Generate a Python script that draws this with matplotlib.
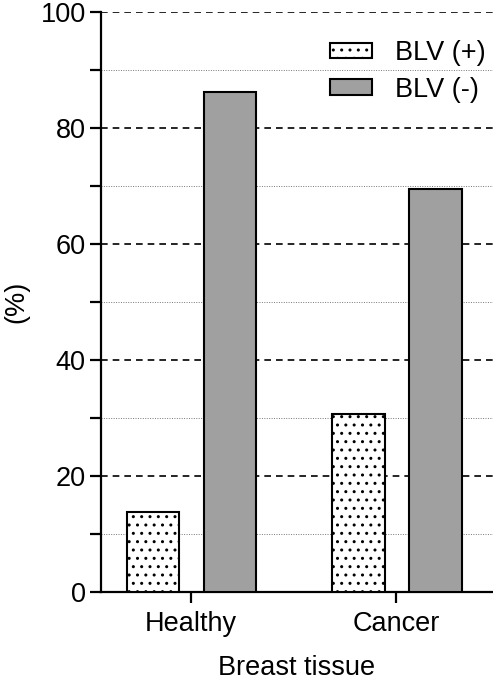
import numpy as np
import matplotlib.pyplot as plt
from matplotlib.ticker import MultipleLocator

plt.rcParams['font.family'] = ['Liberation Sans', 'DejaVu Sans']
plt.rcParams['hatch.linewidth'] = 1.0

categories = ["Healthy", "Cancer"]
series_names = ["BLV (+)", "BLV (-)"]
blv_pos = [13.8, 30.7]
blv_neg = [86.2, 69.5]

fig = plt.figure(figsize=(4.93, 6.85), dpi=100)
ax = fig.add_axes([0.205, 0.136, 0.795, 0.8465])

x = np.arange(len(categories))
w = 0.255
ax.bar(x - 0.185, blv_pos, w, facecolor='white', edgecolor='black',
       linewidth=1.5, hatch='..', label=series_names[0], zorder=3)
ax.bar(x + 0.19, blv_neg, w, facecolor='#a0a0a0', edgecolor='black',
       linewidth=1.5, label=series_names[1], zorder=3)

ax.set_xlim(-0.437, 1.47)
ax.set_ylim(0, 100)
ax.yaxis.set_major_locator(MultipleLocator(20))
ax.yaxis.set_minor_locator(MultipleLocator(10))
ax.grid(axis='y', which='major', color='black', linestyle=(0, (4, 3)), linewidth=1.2)
ax.grid(axis='y', which='minor', color='#777777', linestyle=(0, (1, 1.5)), linewidth=0.7)
ax.set_axisbelow(True)

ax.set_xticks(x)
ax.set_xticklabels(categories)
for s in ['top', 'right']:
    ax.spines[s].set_visible(False)
for s in ['left', 'bottom']:
    ax.spines[s].set_linewidth(1.6)
ax.tick_params(axis='both', which='major', length=8, width=1.6, labelsize=19.5, pad=3)
ax.tick_params(axis='x', which='major', pad=6)
ax.tick_params(axis='y', which='minor', length=8, width=1.6)

ax.set_ylabel("(%)", fontsize=19.5, labelpad=8)
ax.set_xlabel("Breast tissue", fontsize=19.5, labelpad=13)

ax.legend(loc='upper right', bbox_to_anchor=(1.043, 0.994), frameon=False,
          fontsize=19.5, handlelength=1.55, handleheight=0.5, handletextpad=0.85,
          labelspacing=0.4)

fig.savefig("out.png", dpi=100)
